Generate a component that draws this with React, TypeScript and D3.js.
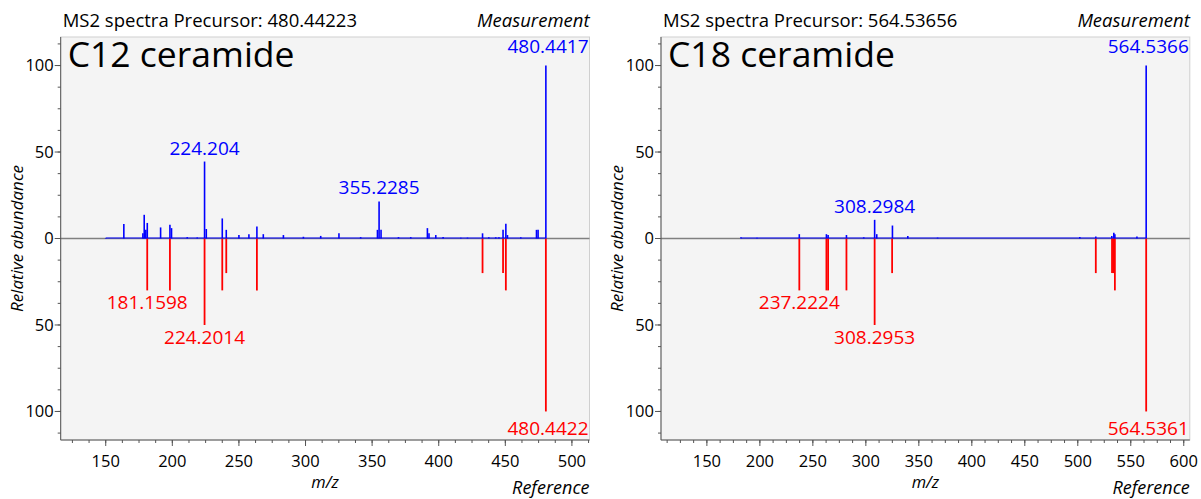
import React, { useEffect } from 'react';
import * as d3 from 'd3';

// C12 ceramide, measured (blue, up) and reference (red, down)
const c12Precursor = '480.44223';
const c12MeasMz = [150, 163.6, 177.9, 178.9, 180.1, 181.2, 191.2, 198.2, 199.4, 211.2, 218.7, 224.204, 225.5,
  237.5, 240.5, 250, 257.5, 263.5, 268.3, 283.4, 298.4, 311.4, 325.1, 341.4, 354, 355.2285, 356.7, 369.8, 379,
  391.5, 392.7, 397.8, 403.3, 416.6, 421.6, 432.9, 437.6, 442.8, 445.2, 448.3, 450.4, 451.6, 461.6, 473.4, 474.6, 480.4417];
const c12MeasInt = [0.3, 8.4, 3, 13.7, 5, 9, 6.4, 8, 6, 0.8, 0.6, 44.5, 5.5,
  11.6, 5, 2, 2.5, 7, 2.5, 2, 1, 1.5, 3, 0.8, 5, 21.4, 5, 0.8, 0.8,
  6, 3, 2, 0.8, 0.5, 0.5, 3, 0.7, 0.7, 0.7, 5, 8.5, 2, 0.7, 5, 5, 100];
const c12RefMz = [181.1598, 198.2, 224.2014, 237.5, 240.5, 263.5, 432.9, 448.3, 450.4, 480.4422];
const c12RefInt = [30, 30, 50, 30, 20, 30, 20, 20, 30, 100];
const c12MeasLabels = [224.204, 355.2285, 480.4417];
const c12RefLabels = [181.1598, 224.2014, 480.4422];

// C18 ceramide
const c18Precursor = '564.53656';
const c18MeasMz = [182.1, 197.3, 237.2, 262.8, 264.4, 281.7, 298, 308.2984, 310.3, 325.1, 339.6, 367.7,
  501.9, 517, 532.1, 534, 535, 555.8, 564.5366];
const c18MeasInt = [0.7, 0.5, 2.5, 2.5, 2, 2, 0.7, 10.8, 2.5, 7.5, 1.5, 0.5,
  0.8, 1.2, 1.5, 3.3, 2.5, 1.2, 100];
const c18RefMz = [237.2224, 262.8, 264.4, 281.7, 308.2953, 324.8, 517, 532.3, 533.4, 535, 564.5361];
const c18RefInt = [30, 30, 30, 30, 50, 20, 20, 20, 20, 30, 100];
const c18MeasLabels = [308.2984, 564.5366];
const c18RefLabels = [237.2224, 308.2953, 564.5361];

const yMajor = [-100, -50, 0, 50, 100];
const FONT = '"Open Sans", "Noto Sans", sans-serif';
const BLUE = '#0000ff';
const RED = '#ff0000';

function Panel(props: any) {
  const { x0, precursor, name, domain, measMz, measInt, refMz, refInt, measLabels, refLabels } = props;
  const left = x0 + 60.7, right = x0 + 589.5, top = 37, bottom = 440;
  const x = d3.scaleLinear().domain(domain).range([left, right]);
  const y = d3.scaleLinear().domain([-116.5, 116.5]).range([bottom, top]);

  const xMajor = d3.range(Math.ceil(domain[0] / 50) * 50, domain[1], 50);
  const xMinor = d3.range(Math.ceil(domain[0] / 12.5) * 12.5, domain[1], 12.5);
  const yMinor = d3.range(-112.5, 113, 12.5);

  const measMin = d3.min(measMz) as number;
  const measMax = d3.max(measMz) as number;

  return (
    <g>
      <text x={left + 2} y={27} fontSize={18.5} fontFamily={FONT}>MS2 spectra Precursor: {precursor}</text>
      <text x={right} y={27} fontSize={18.5} fontFamily={FONT} fontStyle="italic" textAnchor="end">Measurement</text>

      <rect x={left} y={top} width={right - left} height={bottom - top} fill="#f4f4f4" stroke="#cfcfcf" />
      <text x={left + 7} y={67} fontSize={35.5} fontFamily={FONT}>{name}</text>

      {/* zero line and measurement baseline */}
      <line x1={left} x2={right} y1={y(0)} y2={y(0)} stroke="#808080" strokeWidth={1.5} />
      <line x1={x(measMin)} x2={x(measMax)} y1={y(0) - 0.5} y2={y(0) - 0.5} stroke={BLUE} strokeWidth={1} />

      {refMz.map((m: number, i: number) => (
        <line key={'r' + i} x1={x(m)} x2={x(m)} y1={y(0)} y2={y(-refInt[i])} stroke={RED} strokeWidth={1.8} />
      ))}
      {measMz.map((m: number, i: number) => (
        <line key={'m' + i} x1={x(m)} x2={x(m)} y1={y(0)} y2={y(measInt[i])} stroke={BLUE} strokeWidth={1.6} />
      ))}

      {measLabels.map((m: number) => {
        const v = measInt[measMz.indexOf(m)];
        const edge = v >= 100;
        return (
          <text key={'ml' + m} x={edge ? right - 1 : x(m)} y={edge ? y(v) - 13 : y(v) - 7}
            textAnchor={edge ? 'end' : 'middle'} fontSize={19} fontFamily={FONT} fill={BLUE}>{String(m)}</text>
        );
      })}
      {refLabels.map((m: number) => {
        const v = refInt[refMz.indexOf(m)];
        const edge = v >= 100;
        return (
          <text key={'rl' + m} x={edge ? right - 1 : x(m)} y={edge ? y(-v) + 24 : y(-v) + 19}
            textAnchor={edge ? 'end' : 'middle'} fontSize={19} fontFamily={FONT} fill={RED}>{String(m)}</text>
        );
      })}

      {/* axes */}
      <line x1={left} x2={left} y1={top} y2={bottom} stroke="#555" />
      <line x1={left} x2={right} y1={bottom} y2={bottom} stroke="#555" />
      {yMinor.map(v => (
        <line key={'ym' + v} x1={left - 3} x2={left} y1={y(v)} y2={y(v)} stroke="#555" />
      ))}
      {yMajor.map(v => (
        <g key={'y' + v}>
          <line x1={left - 6} x2={left} y1={y(v)} y2={y(v)} stroke="#555" />
          <text x={left - 7} y={y(v)} dy="0.35em" textAnchor="end" fontSize={16.5} fontFamily={FONT}>{Math.abs(v)}</text>
        </g>
      ))}
      {xMinor.map(v => (
        <line key={'xm' + v} x1={x(v)} x2={x(v)} y1={bottom} y2={bottom + 3} stroke="#555" />
      ))}
      {xMajor.map(v => (
        <g key={'x' + v}>
          <line x1={x(v)} x2={x(v)} y1={bottom} y2={bottom + 6} stroke="#555" />
          <text x={x(v)} y={467} textAnchor="middle" fontSize={16.5} fontFamily={FONT}>{v}</text>
        </g>
      ))}

      <text x={(left + right) / 2} y={488} textAnchor="middle" fontSize={16.5} fontFamily={FONT} fontStyle="italic">m/z</text>
      <text x={right} y={494} textAnchor="end" fontSize={18} fontFamily={FONT} fontStyle="italic">Reference</text>
      <text transform={`translate(${x0 + 23},${(top + bottom) / 2}) rotate(-90)`} textAnchor="middle"
        fontSize={17} fontFamily={FONT} fontStyle="italic">Relative abundance</text>
    </g>
  );
}

export default function App() {
  useEffect(() => {
    document.body.style.margin = '0';
  }, []);
  return (
    <svg width={1201} height={499} style={{ display: 'block', background: '#fff' }}>
      <Panel x0={0} precursor={c12Precursor} name="C12 ceramide" domain={[116.2, 513.2]}
        measMz={c12MeasMz} measInt={c12MeasInt} refMz={c12RefMz} refInt={c12RefInt}
        measLabels={c12MeasLabels} refLabels={c12RefLabels} />
      <Panel x0={600.3} precursor={c18Precursor} name="C18 ceramide" domain={[106.7, 605.7]}
        measMz={c18MeasMz} measInt={c18MeasInt} refMz={c18RefMz} refInt={c18RefInt}
        measLabels={c18MeasLabels} refLabels={c18RefLabels} />
    </svg>
  );
}
